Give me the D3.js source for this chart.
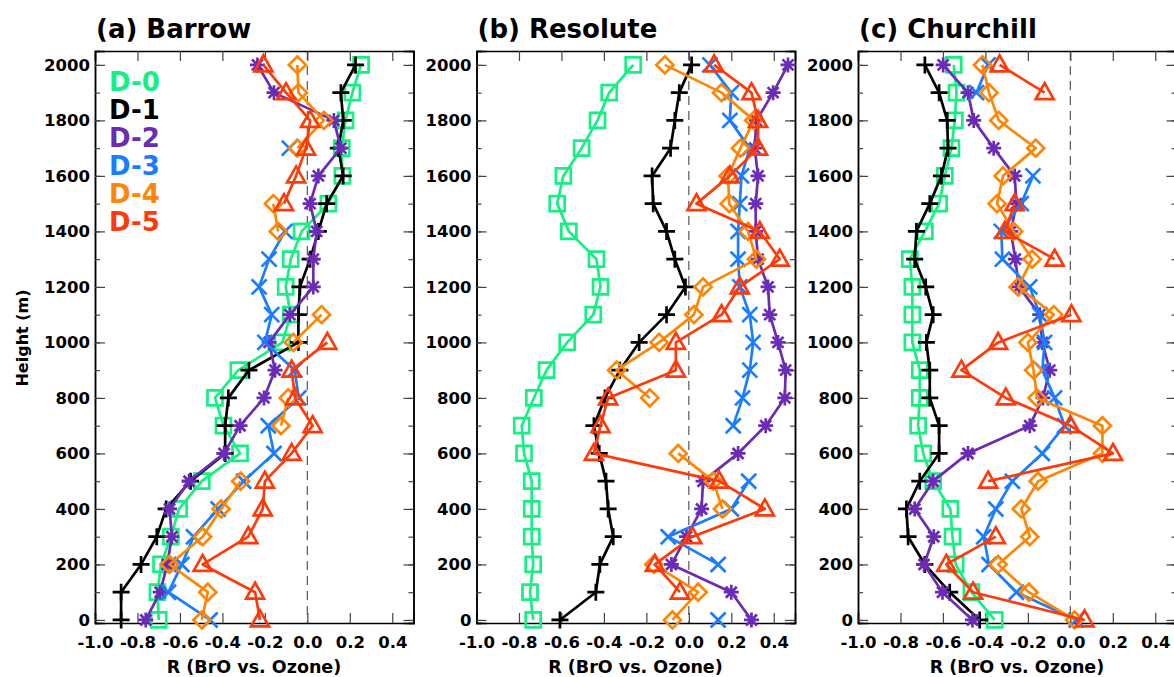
<!DOCTYPE html>
<html lang="en">
<head>
    <meta charset="UTF-8">
    <title>BrO vs Ozone</title>
    <style>
        body { margin: 0; background: #fff; }
        text { font-family: "DejaVu Sans", sans-serif; font-weight: bold; }
    </style>
</head>
<body>
    <svg id="svg"></svg>
</body>
<script src="https://d3js.org/d3.v7.min.js"></script>
<script>
    // heights (m), index 0 = ground
    const heights = [0,100,200,300,400,500,600,700,800,900,1000,1100,1200,1300,1400,1500,1600,1700,1800,1900,2000];
    const seriesNames = ['D-0','D-1','D-2','D-3','D-4','D-5'];
    const seriesColors = ['#14F082','#000000','#6A2BB5','#1A7DFF','#FF8505','#FF3A0A'];
    const seriesSymbols = ['square','plus','asterisk','cross','diamond','triangle'];
    const panelTitles = ['(a) Barrow','(b) Resolute','(c) Churchill'];
    const xTicks = [-1.0,-0.8,-0.6,-0.4,-0.2,0.0,0.2,0.4];
    const yTicks = [0,200,400,600,800,1000,1200,1400,1600,1800,2000];
    const yMinorTicks = d3.range(0, 2001, 100);

    // (a) Barrow
    const barrowD0 = [-0.70,-0.706,-0.689,-0.643,-0.604,-0.497,-0.317,-0.395,-0.435,-0.325,-0.118,-0.078,-0.102,-0.078,-0.027,0.099,0.165,0.162,0.18,0.212,0.253];
    const barrowD1 = [-0.877,-0.877,-0.783,-0.709,-0.665,-0.55,-0.387,-0.387,-0.372,-0.275,-0.042,-0.042,-0.035,0.013,0.052,0.091,0.169,0.146,0.169,0.158,0.227];
    const barrowD2 = [-0.761,-0.693,-0.66,-0.638,-0.649,-0.557,-0.392,-0.317,-0.204,-0.152,-0.18,-0.082,0.028,0.028,0.044,0.013,0.052,0.158,0.125,-0.157,-0.235];
    const barrowD3 = [-0.458,-0.654,-0.591,-0.536,-0.42,-0.30,-0.157,-0.184,-0.04,-0.06,-0.20,-0.168,-0.227,-0.18,-0.105,null,null,-0.085,null,null,null];
    const barrowD4 = [-0.497,-0.469,-0.649,-0.493,-0.406,-0.314,null,-0.124,-0.09,null,-0.066,0.067,null,null,-0.137,-0.16,null,-0.047,0.078,-0.042,-0.047];
    const barrowD5 = [-0.223,-0.246,-0.493,-0.278,-0.21,-0.20,-0.074,0.025,-0.058,-0.074,0.094,null,null,null,null,-0.11,-0.053,-0.006,0.013,-0.10,-0.207];

    // (b) Resolute
    const resoluteD0 = [-0.733,-0.748,-0.733,-0.74,-0.74,-0.74,-0.776,-0.787,-0.73,-0.67,-0.573,-0.45,-0.416,-0.435,-0.565,-0.62,-0.591,-0.505,-0.43,-0.375,-0.262];
    const resoluteD1 = [-0.607,-0.438,-0.419,-0.356,-0.38,-0.39,-0.422,-0.447,-0.395,-0.325,-0.234,-0.105,-0.016,-0.066,-0.105,-0.168,-0.173,-0.086,-0.066,-0.045,0.013];
    const resoluteD2 = [0.295,0.2,-0.082,-0.011,0.06,0.067,0.232,0.362,0.452,0.456,0.42,0.381,0.373,0.326,0.315,0.315,0.326,0.31,0.318,0.397,0.467];
    const resoluteD3 = [0.138,null,0.138,-0.097,0.2,0.282,null,0.209,0.253,0.287,0.303,0.287,0.24,0.232,0.232,0.24,0.248,0.287,0.193,0.2,0.099];
    const resoluteD4 = [-0.077,0.044,-0.165,null,0.158,0.115,-0.05,null,-0.184,-0.34,-0.14,0.024,0.067,0.318,0.279,0.19,0.185,0.243,0.306,0.154,-0.113];
    const resoluteD5 = [null,-0.042,-0.16,0.016,0.358,0.143,-0.447,-0.416,-0.38,-0.061,-0.061,0.154,0.24,0.428,0.334,0.036,0.193,0.326,0.326,0.295,0.119];

    // (c) Churchill
    const churchillD0 = [-0.356,-0.466,-0.54,-0.555,-0.565,-0.646,-0.693,-0.717,-0.709,-0.709,-0.744,-0.744,-0.744,-0.756,-0.685,-0.618,-0.591,-0.56,-0.544,-0.536,-0.549];
    const churchillD1 = [-0.427,-0.568,-0.685,-0.764,-0.772,-0.709,-0.618,-0.618,-0.662,-0.662,-0.678,-0.646,-0.681,-0.733,-0.725,-0.662,-0.607,-0.576,-0.58,-0.618,-0.685];
    const churchillD2 = [-0.461,-0.602,-0.689,-0.643,-0.733,-0.646,-0.482,-0.191,-0.129,-0.097,-0.132,-0.144,-0.242,-0.259,-0.28,-0.254,-0.262,-0.361,-0.455,-0.482,-0.599];
    const churchillD3 = [0.028,-0.254,-0.383,-0.408,-0.351,-0.273,-0.132,-0.027,-0.074,-0.132,-0.121,-0.144,-0.191,-0.32,-0.325,-0.231,-0.176,null,null,-0.442,-0.387];
    const churchillD4 = [0.02,-0.195,-0.34,-0.191,-0.231,-0.152,0.151,0.151,-0.157,-0.173,-0.2,-0.078,-0.246,-0.18,-0.267,-0.345,-0.317,-0.163,-0.337,-0.383,-0.414];
    const churchillD5 = [0.067,-0.458,-0.584,-0.351,null,-0.387,0.201,0.0,-0.304,-0.513,-0.34,0.005,null,-0.074,-0.309,-0.262,null,null,null,-0.121,-0.333];

    const panelSeries = [
        [barrowD0, barrowD1, barrowD2, barrowD3, barrowD4, barrowD5],
        [resoluteD0, resoluteD1, resoluteD2, resoluteD3, resoluteD4, resoluteD5],
        [churchillD0, churchillD1, churchillD2, churchillD3, churchillD4, churchillD5]
    ];

    const width = 1174, height = 677;
    const svg = d3.select('#svg')
        .attr('width', width)
        .attr('height', height)
        .attr('viewBox', `0 0 ${width} ${height}`);

    const panelLeft = [95, 476.5, 858];
    const panelWidth = 318.5;
    const plotTop = 51, plotBottom = 623;

    const y = d3.scaleLinear().domain([-11, 2050]).range([plotBottom, plotTop]);
    const fmtX = d => d3.format('.1f')(d).replace('\u2212', '-');

    // marker path for each symbol, centred on 0,0
    function symbolPath(type) {
        switch (type) {
            case 'square': return 'M-7.5,-7.5H7.5V7.5H-7.5Z';
            case 'plus': return 'M-8.5,0H8.5M0,-8.5V8.5';
            case 'cross': return 'M-7.5,-7.5L7.5,7.5M-7.5,7.5L7.5,-7.5';
            case 'asterisk': return 'M-7.5,0H7.5M0,-7.5V7.5M-5.5,-5.5L5.5,5.5M-5.5,5.5L5.5,-5.5';
            case 'diamond': return 'M0,-8.5L8.5,0L0,8.5L-8.5,0Z';
            case 'triangle': return 'M0,-9.5L9,6.5L-9,6.5Z';
        }
    }

    panelSeries.forEach((series, p) => {
        const x0 = panelLeft[p];
        const x = d3.scaleLinear().domain([-1.0, 0.5]).range([x0, x0 + panelWidth]);
        const g = svg.append('g');

        // title
        g.append('text')
            .attr('x', x0 + 1).attr('y', 38)
            .attr('font-size', 26)
            .text(panelTitles[p]);

        // zero line
        g.append('line')
            .attr('x1', x(0)).attr('x2', x(0))
            .attr('y1', plotTop).attr('y2', plotBottom)
            .attr('stroke', '#555').attr('stroke-width', 1.2)
            .attr('stroke-dasharray', '9,6');

        // axes
        const axisB = d3.axisBottom(x).tickValues(xTicks).tickSize(-10).tickFormat(fmtX);
        const axisT = d3.axisTop(x).tickValues(xTicks).tickSize(-10).tickFormat('');
        const axisL = d3.axisLeft(y).tickValues(yTicks).tickSize(-10).tickFormat(d3.format('d'));
        const axisR = d3.axisRight(y).tickValues(yTicks).tickSize(-10).tickFormat('');
        const minorL = d3.axisLeft(y).tickValues(yMinorTicks).tickSize(-5).tickFormat('');
        const minorR = d3.axisRight(y).tickValues(yMinorTicks).tickSize(-5).tickFormat('');

        const gB = g.append('g').attr('transform', `translate(0,${plotBottom})`).call(axisB);
        g.append('g').attr('transform', `translate(0,${plotTop})`).call(axisT);
        const gL = g.append('g').attr('transform', `translate(${x0},0)`).call(axisL);
        g.append('g').attr('transform', `translate(${x0 + panelWidth},0)`).call(axisR);
        g.append('g').attr('transform', `translate(${x0},0)`).call(minorL);
        g.append('g').attr('transform', `translate(${x0 + panelWidth},0)`).call(minorR);

        g.selectAll('.domain').attr('stroke', '#000').attr('stroke-width', 1.5);
        g.selectAll('.tick line').attr('stroke', '#444').attr('stroke-width', 1.2);
        gB.selectAll('.tick text').attr('font-size', 16.5).attr('font-family', 'DejaVu Sans')
            .attr('font-weight', 'bold').attr('fill', '#000').attr('y', 0).attr('dy', '1.5em');
        gL.selectAll('.tick text').attr('font-size', 16.5).attr('font-family', 'DejaVu Sans')
            .attr('font-weight', 'bold').attr('fill', '#000').attr('x', -5);

        // x label
        g.append('text')
            .attr('x', x0 + 159).attr('y', 673)
            .attr('text-anchor', 'middle')
            .attr('font-size', 17.5)
            .text('R (BrO vs. Ozone)');

        // lines and markers
        const line = d3.line()
            .defined(d => d[0] !== null)
            .x(d => x(d[0]))
            .y(d => y(d[1]));

        series.forEach((vals, s) => {
            const pts = vals.map((v, i) => [v, heights[i]]);
            g.append('path')
                .datum(pts)
                .attr('d', line)
                .attr('fill', 'none')
                .attr('stroke', seriesColors[s])
                .attr('stroke-width', 2.7)
                .attr('stroke-linejoin', 'round');
            g.append('g').selectAll('path')
                .data(pts.filter(d => d[0] !== null))
                .join('path')
                .attr('transform', d => `translate(${x(d[0])},${y(d[1])})`)
                .attr('d', symbolPath(seriesSymbols[s]))
                .attr('fill', 'none')
                .attr('stroke', seriesColors[s])
                .attr('stroke-width', 2.7)
                .attr('stroke-linejoin', 'miter');
        });
    });

    // y label
    svg.append('text')
        .attr('transform', 'translate(28,338) rotate(-90)')
        .attr('text-anchor', 'middle')
        .attr('font-size', 16)
        .text('Height (m)');

    // legend
    svg.append('g').selectAll('text')
        .data(seriesNames)
        .join('text')
        .attr('x', 109)
        .attr('y', (d, i) => 91 + i * 28)
        .attr('font-size', 26)
        .attr('fill', (d, i) => seriesColors[i])
        .text(d => d);
</script>
</html>
